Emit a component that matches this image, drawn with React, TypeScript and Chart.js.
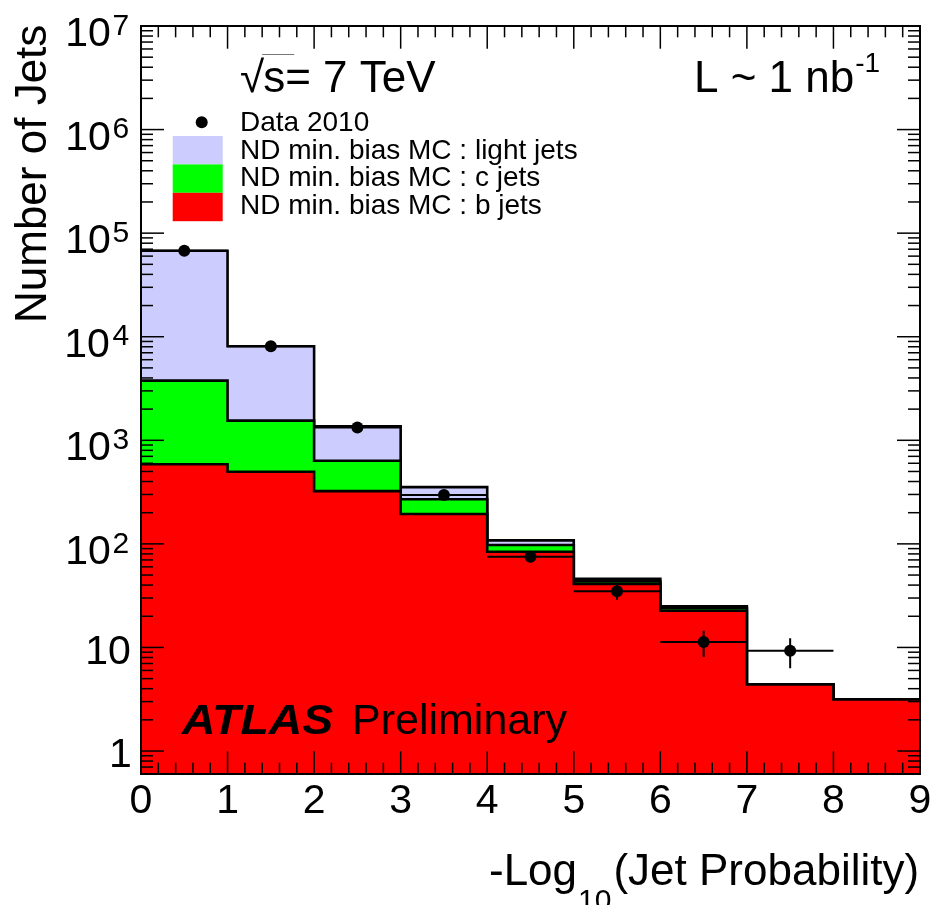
import { useEffect, useRef } from 'react';
import { Chart, registerables } from 'chart.js';

Chart.register(...registerables);

// ---------- data ----------
const binEdges = [0, 1, 2, 3, 4, 5, 6, 7, 8, 9];
const bJets = [587, 497, 323, 194, 84, 41, 22.6, 4.4, 3.15];
const cJets = [3180, 1050, 311, 76, 13.6, 2.4, 1.3, 0, 0];
const lightJets = [63800, 6540, 731, 83, 10.4, 2.5, 1.0, 0, 0];
const dataX = [0.5, 1.5, 2.5, 3.5, 4.5, 5.5, 6.5, 7.5];
const dataY = [67600, 8100, 1330, 296, 75, 34.8, 11.3, 9.3];
const dataErr = [260, 90, 37, 17, 8.7, 5.9, 3.2, 3.0];

const xTickValues = [0, 1, 2, 3, 4, 5, 6, 7, 8, 9];
const yTickValues = [1, 10, 100, 1000, 10000, 100000, 1000000, 10000000];
const yTickBases = ['1', '10', '10', '10', '10', '10', '10', '10'];
const yTickExps = ['', '', '2', '3', '4', '5', '6', '7'];

const legendLabels = [
  'Data 2010',
  'ND min. bias MC : light jets',
  'ND min. bias MC : c jets',
  'ND min. bias MC : b jets',
];
const yTitle = 'Number of Jets';
const xTitleMain = '-Log';
const xTitleSub = '10';
const xTitleRest = '(Jet Probability)';
const energyText = 's= 7 TeV';
const lumiText = 'L ~ 1 nb';
const lumiExp = '-1';
const atlasText = 'ATLAS';
const prelimText = 'Preliminary';

const Y_MIN = 0.634;
const Y_MAX = 1e7;

const FONT = '"Liberation Sans", Arial, Helvetica, sans-serif';
const COL_LIGHT = '#ccccff';
const COL_C = '#00ff00';
const COL_B = '#ff0000';

const bcJets = bJets.map((v, i) => v + cJets[i]);
const totalJets = bcJets.map((v, i) => v + lightJets[i]);

function stepPoints(values: number[]) {
  return binEdges.map((x, i) => ({ x, y: values[Math.min(i, values.length - 1)] }));
}

const decorPlugin = {
  id: 'decor',
  afterDatasetsDraw(chart: any) {
    const { ctx } = chart;
    const x = chart.scales.x;
    const y = chart.scales.y;
    ctx.save();
    ctx.strokeStyle = '#000';
    ctx.lineWidth = 2;
    dataY.forEach((v, i) => {
      const px = x.getPixelForValue(dataX[i]);
      const py = y.getPixelForValue(v);
      ctx.beginPath();
      ctx.moveTo(x.getPixelForValue(binEdges[i]), py);
      ctx.lineTo(x.getPixelForValue(binEdges[i + 1]), py);
      ctx.moveTo(px, y.getPixelForValue(v + dataErr[i]));
      ctx.lineTo(px, y.getPixelForValue(v - dataErr[i]));
      ctx.stroke();
    });
    ctx.restore();
  },
  afterDraw(chart: any) {
    const { ctx, chartArea } = chart;
    const { left, right, top, bottom } = chartArea;
    const x = chart.scales.x;
    const y = chart.scales.y;
    ctx.save();
    ctx.strokeStyle = '#000';
    ctx.fillStyle = '#000';

    // ticks (inside, all four sides)
    ctx.lineWidth = 1.5;
    const line = (x1: number, y1: number, x2: number, y2: number) => {
      ctx.beginPath();
      ctx.moveTo(x1, y1);
      ctx.lineTo(x2, y2);
      ctx.stroke();
    };
    const xt = (v: number, len: number) => {
      const p = x.getPixelForValue(v);
      line(p, bottom, p, bottom - len);
      line(p, top, p, top + len);
    };
    xTickValues.forEach((v) => xt(v, 22.7));
    for (let i = 0; i < xTickValues.length - 1; i++) {
      const a = xTickValues[i];
      const b = xTickValues[i + 1];
      for (let k = 1; k < 5; k++) xt(a + (k * (b - a)) / 5, 11.3);
    }
    const yt = (v: number, len: number) => {
      const p = y.getPixelForValue(v);
      line(left, p, left + len, p);
      line(right, p, right - len, p);
    };
    yTickValues.forEach((v) => yt(v, 23));
    for (let e = -1; e < 7; e++) {
      const d = Math.pow(10, e);
      for (let m = 2; m < 10; m++) {
        const v = m * d;
        if (v >= Y_MIN && v <= Y_MAX) yt(v, 12);
      }
    }

    // frame
    ctx.lineWidth = 2;
    ctx.strokeRect(left, top, right - left, bottom - top);

    // y tick labels
    ctx.textAlign = 'left';
    ctx.textBaseline = 'alphabetic';
    yTickValues.forEach((v, i) => {
      const p = y.getPixelForValue(v);
      const base = yTickBases[i];
      const exp = yTickExps[i];
      if (!exp) {
        ctx.font = `41px ${FONT}`;
        const m = ctx.measureText(base);
        ctx.fillText(base, 130 - m.actualBoundingBoxRight, p + 16.4);
      } else {
        ctx.font = `30px ${FONT}`;
        const me = ctx.measureText(exp);
        const ex = 128.5 - me.actualBoundingBoxRight;
        const expInkLeft = ex - me.actualBoundingBoxLeft;
        ctx.font = `41px ${FONT}`;
        const mb = ctx.measureText(base);
        const bx = expInkLeft - 3.5 - mb.actualBoundingBoxRight;
        ctx.fillText(base, bx, p + 20.2);
        ctx.font = `30px ${FONT}`;
        ctx.fillText(exp, ex, p + 20.2 - 11.5);
      }
    });

    // y title
    ctx.save();
    ctx.translate(46, 323);
    ctx.rotate(-Math.PI / 2);
    ctx.font = `44px ${FONT}`;
    ctx.textAlign = 'left';
    ctx.fillText(yTitle, 0, 0);
    ctx.restore();

    // x title with subscript
    ctx.textAlign = 'left';
    ctx.font = `44px ${FONT}`;
    let tx = 489;
    ctx.fillText(xTitleMain, tx, 885);
    tx += ctx.measureText(xTitleMain).width;
    ctx.font = `30px ${FONT}`;
    ctx.fillText(xTitleSub, tx + 1, 909.5);
    tx += ctx.measureText(xTitleSub).width + 3;
    ctx.font = `44px ${FONT}`;
    ctx.fillText(xTitleRest, tx, 885);

    // sqrt(s) = 7 TeV
    ctx.font = `44px ${FONT}`;
    ctx.fillText('\u221A', 240, 92);
    const sq = ctx.measureText('\u221A').width;
    ctx.fillText(energyText, 240 + sq - 1, 92);
    const sw = ctx.measureText('s').width;
    ctx.save();
    ctx.strokeStyle = '#777';
    ctx.lineWidth = 1.2;
    line(240 + sq - 2, 54.5, 240 + sq + sw + 8, 54.5);
    ctx.restore();

    // luminosity
    ctx.font = `44px ${FONT}`;
    ctx.fillText(lumiText, 694, 92);
    const lw = ctx.measureText(lumiText).width;
    ctx.font = `28px ${FONT}`;
    ctx.fillText(lumiExp, 694 + lw + 1, 72);

    // ATLAS Preliminary
    ctx.save();
    ctx.translate(182, 734);
    ctx.scale(1.08, 1);
    ctx.font = `italic bold 43px ${FONT}`;
    ctx.fillText(atlasText, 0, 0);
    ctx.restore();
    ctx.font = `43px ${FONT}`;
    ctx.fillText(prelimText, 352, 734);

    // legend
    ctx.beginPath();
    ctx.arc(201.7, 122.3, 6, 0, Math.PI * 2);
    ctx.fill();
    const boxColors = [COL_LIGHT, COL_C, COL_B];
    boxColors.forEach((c, i) => {
      ctx.fillStyle = c;
      ctx.fillRect(172.7, 136 + i * 28.4, 50, 28.4);
    });
    ctx.fillStyle = '#000';
    ctx.font = `28px ${FONT}`;
    legendLabels.forEach((t, i) => {
      ctx.fillText(t, 240, 131 + i * 27.5);
    });

    ctx.restore();
  },
};

export default function App() {
  const ref = useRef<HTMLCanvasElement | null>(null);

  useEffect(() => {
    if (!ref.current) return;
    const stepDs = (label: string, values: number[], color: string) => ({
      label,
      data: stepPoints(values),
      stepped: true,
      fill: 'start',
      backgroundColor: color,
      borderColor: '#000',
      borderWidth: 2.6,
      pointRadius: 0,
      pointHoverRadius: 0,
    });
    const chart = new Chart(ref.current, {
      type: 'line',
      data: {
        datasets: [
          {
            label: legendLabels[0],
            data: dataX.map((x, i) => ({ x, y: dataY[i] })),
            showLine: false,
            pointRadius: 6,
            pointHoverRadius: 6,
            pointBackgroundColor: '#000',
            pointBorderColor: '#000',
            pointBorderWidth: 0,
            borderColor: '#000',
            backgroundColor: '#000',
          } as any,
          stepDs(legendLabels[3], bJets, COL_B) as any,
          stepDs(legendLabels[2], bcJets, COL_C) as any,
          stepDs(legendLabels[1], totalJets, COL_LIGHT) as any,
        ],
      },
      options: {
        responsive: false,
        animation: false,
        events: [],
        layout: { padding: { top: 26, right: 11, left: 0, bottom: 0 } },
        plugins: {
          legend: { display: false },
          tooltip: { enabled: false },
          title: { display: false },
        },
        scales: {
          x: {
            type: 'linear',
            min: 0,
            max: 9,
            grid: { display: false, drawTicks: false },
            border: { display: false },
            afterBuildTicks: (s: any) => {
              s.ticks = xTickValues.map((v) => ({ value: v }));
            },
            ticks: {
              color: '#000',
              font: { family: FONT, size: 41 },
              padding: 3,
              maxRotation: 0,
              autoSkip: false,
              callback: (v: any) => String(v),
            },
            afterFit: (s: any) => {
              s.height = 131;
              s.paddingLeft = 0;
              s.paddingRight = 0;
            },
          },
          y: {
            type: 'logarithmic',
            min: Y_MIN,
            max: Y_MAX,
            grid: { display: false, drawTicks: false },
            border: { display: false },
            ticks: { display: false },
            afterFit: (s: any) => {
              s.width = 141;
            },
          },
        },
      } as any,
      plugins: [decorPlugin],
    });
    return () => chart.destroy();
  }, []);

  return (
    <div style={{ position: 'absolute', left: 0, top: 0, width: 931, height: 905 }}>
      <canvas ref={ref} width={931} height={905} style={{ display: 'block' }} />
    </div>
  );
}
